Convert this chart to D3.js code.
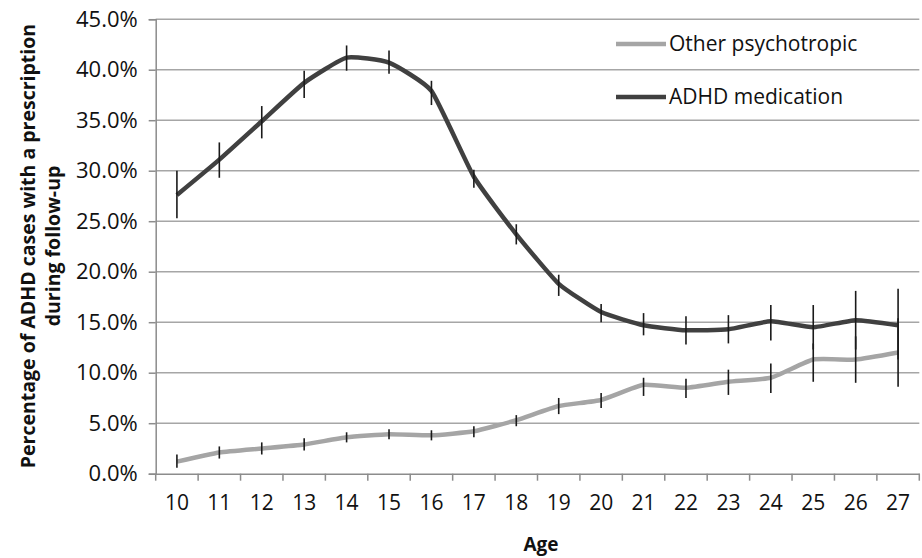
<!DOCTYPE html>
<html>
<head>
<meta charset="utf-8">
<script src="https://cdn.jsdelivr.net/npm/d3@7"></script>
<style>
  body { margin: 0; background: #fff; }
  svg { display: block; font-family: "Open Sans", sans-serif; }
</style>
</head>
<body>
<svg id="chart" width="922" height="558"></svg>
<script>
// ages on the x axis
const ages = [10, 11, 12, 13, 14, 15, 16, 17, 18, 19, 20, 21, 22, 23, 24, 25, 26, 27];

// ADHD medication, percent, with error bar ends
const adhdValues = [27.6, 31.1, 34.9, 38.7, 41.2, 40.7, 37.9, 29.4, 23.7, 18.8, 16.0, 14.7, 14.2, 14.3, 15.1, 14.5, 15.2, 14.7];
const adhdUpper  = [30.0, 32.8, 36.4, 39.9, 42.4, 41.9, 38.9, 30.1, 24.7, 19.7, 16.8, 15.9, 15.6, 15.7, 16.7, 16.7, 18.1, 18.3];
const adhdLower  = [25.3, 29.3, 33.2, 37.2, 39.9, 39.6, 36.5, 28.3, 22.7, 17.6, 15.0, 13.7, 12.8, 12.9, 13.2, 12.3, 12.3, 11.3];

// other psychotropic, percent, with error bar ends
const otherValues = [1.2, 2.1, 2.5, 2.9, 3.6, 3.9, 3.8, 4.2, 5.3, 6.7, 7.3, 8.8, 8.5, 9.1, 9.5, 11.3, 11.3, 12.0];
const otherUpper  = [1.9, 2.7, 3.1, 3.5, 4.1, 4.4, 4.3, 4.7, 5.8, 7.5, 8.0, 9.5, 9.4, 10.3, 10.9, 12.9, 13.6, 15.4];
const otherLower  = [0.6, 1.5, 1.9, 2.3, 3.1, 3.4, 3.3, 3.6, 4.7, 5.9, 6.5, 7.7, 7.5, 7.8, 8.0, 9.1, 9.0, 8.6];

const yTicks = [0, 5, 10, 15, 20, 25, 30, 35, 40, 45];

const seriesNames = ["Other psychotropic", "ADHD medication"];

const svg = d3.select("#chart");
const plotLeft = 155.7, plotRight = 919.3, plotTop = 19.2, plotBottom = 473.7;

const x = d3.scaleBand().domain(ages).range([plotLeft, plotRight]);
const y = d3.scaleLinear().domain([0, 45]).range([plotBottom, plotTop]);
const cx = a => x(a) + x.bandwidth() / 2;

// gridlines
svg.append("g")
   .selectAll("line")
   .data(yTicks.filter(t => t > 0))
   .enter()
   .append("line")
   .attr("x1", plotLeft).attr("x2", plotRight)
   .attr("y1", d => y(d)).attr("y2", d => y(d))
   .attr("stroke", "#a6a6a6")
   .attr("stroke-width", 1.5);

// y axis
const yAxis = d3.axisLeft(y).tickValues(yTicks).tickSize(7).tickPadding(11)
                .tickFormat(d => d.toFixed(1) + "%");
const gy = svg.append("g")
              .attr("transform", `translate(${plotLeft},0)`)
              .call(yAxis);
gy.select(".domain").attr("stroke", "#8c8c8c").attr("stroke-width", 1.5);
gy.selectAll(".tick line").attr("stroke", "#8c8c8c").attr("stroke-width", 1.5);
gy.selectAll(".tick text").attr("font-size", 22).attr("fill", "#111")
  .attr("font-family", "Open Sans, sans-serif");

// x axis, ticks between categories
const gx = svg.append("g")
              .attr("transform", `translate(0,${plotBottom})`)
              .call(d3.axisBottom(x).tickSize(0).tickPadding(21));
gx.select(".domain").attr("stroke", "#8c8c8c").attr("stroke-width", 1.5);
gx.selectAll(".tick text").attr("font-size", 21).attr("fill", "#111")
  .attr("font-family", "Open Sans, sans-serif");
gx.selectAll(".sep")
  .data(ages.concat([null]))
  .enter()
  .append("line")
  .attr("x1", (d, i) => plotLeft + i * x.bandwidth())
  .attr("x2", (d, i) => plotLeft + i * x.bandwidth())
  .attr("y1", 0).attr("y2", 7)
  .attr("stroke", "#8c8c8c")
  .attr("stroke-width", 1.5);

// axis titles
svg.append("text")
   .attr("x", 541).attr("y", 551)
   .attr("text-anchor", "middle")
   .attr("font-size", 19).attr("font-weight", "bold").attr("fill", "#111")
   .text("Age");

const yTitle = svg.append("text")
   .attr("transform", "translate(0,246) rotate(-90)")
   .attr("text-anchor", "middle")
   .attr("font-size", 19.5).attr("font-weight", "bold").attr("fill", "#111");
yTitle.append("tspan").attr("x", 0).attr("y", 35).text("Percentage of ADHD cases with a prescription");
yTitle.append("tspan").attr("x", 0).attr("y", 60).text("during follow-up");

// lines and error bars
const line = d3.line()
               .x(d => cx(d.age))
               .y(d => y(d.v))
               .curve(d3.curveCardinal.tension(0.55));

function drawSeries(values, upper, lower, color) {
  const pts = ages.map((a, i) => ({age: a, v: values[i], hi: upper[i], lo: lower[i]}));
  svg.append("path")
     .datum(pts)
     .attr("d", line)
     .attr("fill", "none")
     .attr("stroke", color)
     .attr("stroke-width", 4.5)
     .attr("stroke-linejoin", "round");
  svg.append("g")
     .selectAll("line")
     .data(pts)
     .enter()
     .append("line")
     .attr("x1", d => cx(d.age)).attr("x2", d => cx(d.age))
     .attr("y1", d => y(d.hi)).attr("y2", d => y(d.lo))
     .attr("stroke", "#1a1a1a")
     .attr("stroke-width", 1.6);
}

drawSeries(otherValues, otherUpper, otherLower, "#a5a5a5");
drawSeries(adhdValues, adhdUpper, adhdLower, "#404040");

// legend
const legendColors = ["#a5a5a5", "#404040"];
const legendY = [44, 97];
const lg = svg.append("g");
seriesNames.forEach((name, i) => {
  lg.append("line")
    .attr("x1", 616).attr("x2", 666)
    .attr("y1", legendY[i]).attr("y2", legendY[i])
    .attr("stroke", legendColors[i])
    .attr("stroke-width", 4.5);
  lg.append("text")
    .attr("x", 669).attr("y", legendY[i])
    .attr("dy", "0.35em")
    .attr("font-size", 21).attr("fill", "#111")
    .text(name);
});
</script>
</body>
</html>
